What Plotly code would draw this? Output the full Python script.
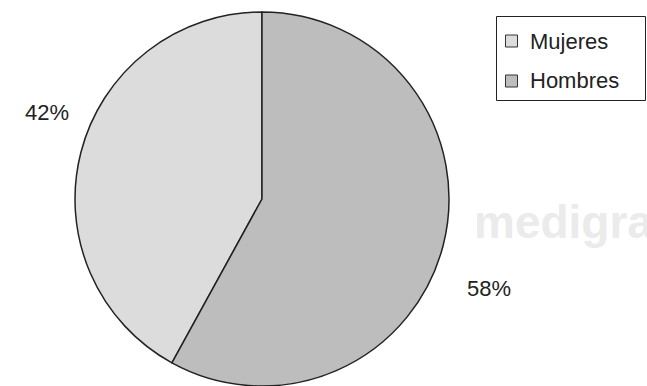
import plotly.graph_objects as go

# Data
labels = ["Mujeres", "Hombres"]
values = [42, 58]
colors = ["#dcdcdd", "#bdbdbe"]

W, H = 647, 386
FONT = "Liberation Sans, Arial, sans-serif"


def px_x(x):
    return x / W


def px_y(y):
    return 1 - y / H


total = sum(values)
# start the first slice so that the second one begins at 12 o'clock
start_angle = 360 * values[1] / total

fig = go.Figure(
    go.Pie(
        labels=labels,
        values=values,
        sort=False,
        direction="clockwise",
        rotation=start_angle,
        marker=dict(colors=colors, line=dict(color="#222222", width=1.5)),
        textinfo="none",
        hoverinfo="label+percent",
        showlegend=False,
        domain=dict(x=[px_x(74), px_x(450)], y=[0, px_y(12)]),
    )
)

label_pos = {"Mujeres": (47, 113), "Hombres": (489, 288)}
annotations = []
for lab, val in zip(labels, values):
    x, y = label_pos[lab]
    annotations.append(
        dict(
            x=px_x(x), y=px_y(y), xref="paper", yref="paper",
            text=f"{round(100 * val / total)}%", showarrow=False,
            xanchor="center", yanchor="middle",
            font=dict(family=FONT, size=22, color="#222222"),
        )
    )

# watermark
annotations.append(
    dict(
        x=px_x(472), y=px_y(222), xref="paper", yref="paper",
        text="<b>medigraphic</b>", showarrow=False,
        xanchor="left", yanchor="middle",
        font=dict(family=FONT, size=46, color="#ebebeb"),
    )
)

# legend box drawn with shapes
shapes = [
    dict(type="rect", xref="paper", yref="paper",
         x0=px_x(496.5), x1=px_x(645.5), y0=px_y(100.5), y1=px_y(16.5),
         line=dict(color="#222222", width=1), fillcolor="white", layer="below"),
]
legend_rows = [41, 81]
for lab, col, yc in zip(labels, colors, legend_rows):
    shapes.append(
        dict(type="rect", xref="paper", yref="paper",
             x0=px_x(505.5), x1=px_x(517.5), y0=px_y(yc + 6), y1=px_y(yc - 6),
             line=dict(color="#333333", width=1), fillcolor=col)
    )
    annotations.append(
        dict(
            x=px_x(528), y=px_y(yc), xref="paper", yref="paper",
            text=lab, showarrow=False, xanchor="left", yanchor="middle",
            font=dict(family=FONT, size=22, color="#222222"),
        )
    )

fig.update_layout(
    width=W, height=H,
    margin=dict(l=0, r=0, t=0, b=0),
    paper_bgcolor="white",
    plot_bgcolor="white",
    annotations=annotations,
    shapes=shapes,
)

fig.write_html("out.html")
